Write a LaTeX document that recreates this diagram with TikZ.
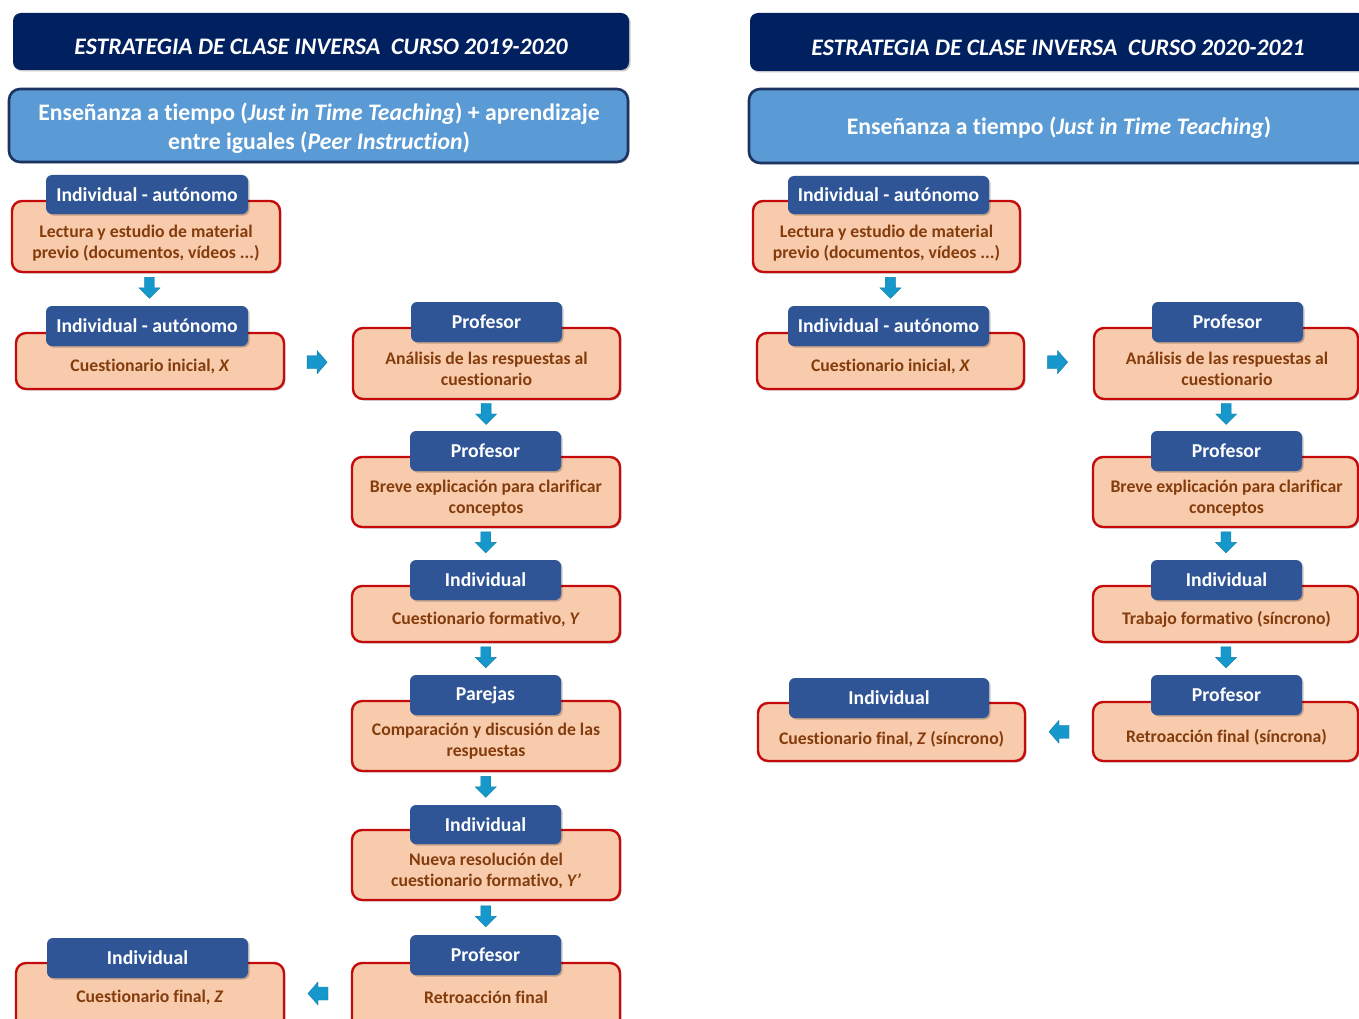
\documentclass[tikz,border=0pt]{standalone}
\usepackage{fontspec}
\setmainfont{Carlito}[Ligatures=NoCommon]
\usetikzlibrary{shadows,calc}
\definecolor{navy}{RGB}{0,32,96}
\definecolor{subfill}{RGB}{91,155,213}
\definecolor{subdraw}{RGB}{28,52,98}
\definecolor{tabfill}{RGB}{47,85,151}
\definecolor{salmon}{RGB}{248,203,173}
\definecolor{boxred}{RGB}{196,10,10}
\definecolor{bodyc}{RGB}{132,60,12}
\definecolor{arrowc}{RGB}{22,152,204}
\newcommand\bxfont{\fontsize{17.7}{21}\selectfont\bfseries}
\newcommand\lbfont{\fontsize{19.7}{22}\selectfont\bfseries}
\newcommand\hdfont{\fontsize{23.7}{29}\selectfont\bfseries}
\begin{document}
\begin{tikzpicture}[x=1pt,y=-1pt,
  shad/.style={drop shadow={shadow xshift=1.5pt,shadow yshift=-1.5pt,opacity=0.22,fill=black}},
  hdr/.style={fill=navy,draw=none,rounded corners=8pt,inner sep=0,shad},
  hdrtext/.style={text=white,font=\hdfont\itshape,inner sep=0},
  sub/.style={fill=subfill,draw=subdraw,line width=2.6pt,rounded corners=11pt,inner sep=0,shad},
  subtext/.style={text=white,font=\hdfont,align=center,inner sep=0},
  stepbox/.style={fill=salmon,draw=boxred,line width=2.4pt,rounded corners=10pt,inner sep=0,shad},
  tab/.style={fill=tabfill,draw=none,rounded corners=6pt,inner sep=0,text=white,font=\lbfont,shad},
  body/.style={text=bodyc,font=\bxfont,align=center,inner sep=0,yshift=-1.5pt},
  darr/.pic={\fill[arrowc,draw=arrowc!80!black,line width=0.4pt]
     (-5,-10.5) -- (5,-10.5) -- (5,0) -- (10.5,0) -- (0,10.5) -- (-10.5,0) -- (-5,0) -- cycle;},
  rarr/.pic={\fill[arrowc,draw=arrowc!80!black,line width=0.4pt]
     (-10,-6.5) -- (0,-6.5) -- (0,-11.5) -- (10,0) -- (0,11.5) -- (0,6.5) -- (-10,6.5) -- cycle;},
  larr/.pic={\fill[arrowc,draw=arrowc!80!black,line width=0.4pt]
     (10,-6.5) -- (0,-6.5) -- (0,-11.5) -- (-10,0) -- (0,11.5) -- (0,6.5) -- (10,6.5) -- cycle;}
]
\clip (0,0) rectangle (1359,1019);
\fill[white] (0,0) rectangle (1359,1019);

% ===== LEFT: 2019-2020 =====
\node[hdr,minimum width=616pt,minimum height=57pt] (h1L) at (321,41.5) {};
\node[hdrtext] (h1Lt) at (321,46.5) {ESTRATEGIA DE CLASE INVERSA\ \ CURSO 2019-2020};
\node[sub,minimum width=619pt,minimum height=73pt] (h2L) at (318.5,125.5) {};
\node[subtext] (h2Lt) at (319,128.5)
  {Enseñanza a tiempo (\textit{Just in Time Teaching}) + aprendizaje\\entre iguales (\textit{Peer Instruction})};

\node[stepbox,minimum width=268pt,minimum height=71pt] (a1) at (146,236.5) {};
\node[tab,minimum width=202pt,minimum height=39pt] (a1l) at (147,194.5) {Individual - autónomo};
\node[body] (a1t) at (146,241.5) {Lectura y estudio de material\\previo (documentos, vídeos ...)};

\node[stepbox,minimum width=268pt,minimum height=56pt] (a2) at (150,361) {};
\node[tab,minimum width=202pt,minimum height=40pt] (a2l) at (147,326) {Individual - autónomo};
\node[body] (a2t) at (150,365) {Cuestionario inicial, \textit{X}};

\node[stepbox,minimum width=268pt,minimum height=72pt] (a3) at (150,999) {};
\node[tab,minimum width=201pt,minimum height=40pt] (a3l) at (147.5,958) {Individual};
\node[body] (a3t) at (150,996) {Cuestionario final, \textit{Z}};

\node[stepbox,minimum width=267pt,minimum height=71pt] (b1) at (486.5,363.5) {};
\node[tab,minimum width=151pt,minimum height=40pt] (b1l) at (486.5,322) {Profesor};
\node[body] (b1t) at (486.5,367.5) {Análisis de las respuestas al\\cuestionario};

\node[stepbox,minimum width=268pt,minimum height=70pt] (b2) at (486,492) {};
\node[tab,minimum width=151pt,minimum height=40pt] (b2l) at (485.5,451) {Profesor};
\node[body] (b2t) at (486,496.5) {Breve explicación para clarificar\\conceptos};

\node[stepbox,minimum width=268pt,minimum height=56pt] (b3) at (486,614) {};
\node[tab,minimum width=151pt,minimum height=40pt] (b3l) at (485.5,580) {Individual};
\node[body] (b3t) at (486,618) {Cuestionario formativo, \textit{Y}};

\node[stepbox,minimum width=268pt,minimum height=70pt] (b4) at (486,736) {};
\node[tab,minimum width=151pt,minimum height=40pt] (b4l) at (485.5,695) {Parejas};
\node[body] (b4t) at (486,740) {Comparación y discusión de las\\respuestas};

\node[stepbox,minimum width=268pt,minimum height=70pt] (b5) at (486,865) {};
\node[tab,minimum width=151pt,minimum height=39pt] (b5l) at (485.5,824.5) {Individual};
\node[body] (b5t) at (486,869.5) {Nueva resolución del\\cuestionario formativo, \textit{Y’}};

\node[stepbox,minimum width=268pt,minimum height=72pt] (b6) at (486,999) {};
\node[tab,minimum width=151pt,minimum height=40pt] (b6l) at (485.5,955) {Profesor};
\node[body] (b6t) at (486,996) {Retroacción final};

\pic[xshift=3pt] at ($(a1.south)!0.45!(a2l.north)$) {darr};
\pic at ($(a2.east)!0.48!(b1.west)$) {rarr};
\pic at ($(b1.south)!0.45!(b2l.north)$) {darr};
\pic at ($(b2.south)!0.45!(b3l.north)$) {darr};
\pic at ($(b3.south)!0.45!(b4l.north)$) {darr};
\pic at ($(b4.south)!0.45!(b5l.north)$) {darr};
\pic at ($(b5.south)!0.45!(b6l.north)$) {darr};
\pic[yshift=4pt] at ($(b6.west |- b6t)!0.5!(a3.east |- a3t)$) {larr};

% ===== RIGHT: 2020-2021 =====
\node[hdr,minimum width=616pt,minimum height=58pt] (h1R) at (1058,42) {};
\node[hdrtext] (h1Rt) at (1058,47.5) {ESTRATEGIA DE CLASE INVERSA\ \ CURSO 2020-2021};
\node[sub,minimum width=620pt,minimum height=74pt] (h2R) at (1059,126) {};
\node[subtext] (h2Rt) at (1059,127.5) {Enseñanza a tiempo (\textit{Just in Time Teaching})};

\node[stepbox,minimum width=267pt,minimum height=71pt] (c1) at (886.5,236.5) {};
\node[tab,minimum width=201pt,minimum height=38pt] (c1l) at (888.5,195) {Individual - autónomo};
\node[body] (c1t) at (886.5,241.5) {Lectura y estudio de material\\previo (documentos, vídeos ...)};

\node[stepbox,minimum width=267pt,minimum height=56pt] (c2) at (890.5,361) {};
\node[tab,minimum width=201pt,minimum height=40pt] (c2l) at (888.5,326) {Individual - autónomo};
\node[body] (c2t) at (890.5,365) {Cuestionario inicial, \textit{X}};

\node[stepbox,minimum width=267pt,minimum height=58pt] (c3) at (891.5,732) {};
\node[tab,minimum width=200pt,minimum height=40pt] (c3l) at (889,698) {Individual};
\node[body] (c3t) at (891.5,738) {Cuestionario final, \textit{Z} (síncrono)};

\node[stepbox,minimum width=264pt,minimum height=71pt] (d1) at (1226,363.5) {};
\node[tab,minimum width=151pt,minimum height=40pt] (d1l) at (1227.5,322) {Profesor};
\node[body] (d1t) at (1227,367.5) {Análisis de las respuestas al\\cuestionario};

\node[stepbox,minimum width=265pt,minimum height=70pt] (d2) at (1225.5,492) {};
\node[tab,minimum width=151pt,minimum height=40pt] (d2l) at (1226.5,451) {Profesor};
\node[body] (d2t) at (1226.5,496.5) {Breve explicación para clarificar\\conceptos};

\node[stepbox,minimum width=265pt,minimum height=56pt] (d3) at (1225.5,614) {};
\node[tab,minimum width=151pt,minimum height=40pt] (d3l) at (1226.5,580) {Individual};
\node[body] (d3t) at (1226.5,618) {Trabajo formativo (síncrono)};

\node[stepbox,minimum width=265pt,minimum height=59pt] (d4) at (1225.5,731.5) {};
\node[tab,minimum width=151pt,minimum height=40pt] (d4l) at (1226.5,695) {Profesor};
\node[body] (d4t) at (1226.5,736) {Retroacción final (síncrona)};

\pic[xshift=3pt] at ($(c1.south)!0.45!(c2l.north)$) {darr};
\pic at ($(c2.east)!0.48!(d1.west)$) {rarr};
\pic at ($(d1.south)!0.45!(d2l.north)$) {darr};
\pic at ($(d2.south)!0.45!(d3l.north)$) {darr};
\pic at ($(d3.south)!0.45!(d4l.north)$) {darr};
\pic at ($(d4.west)!0.5!(c3.east)$) {larr};
\end{tikzpicture}
\end{document}
